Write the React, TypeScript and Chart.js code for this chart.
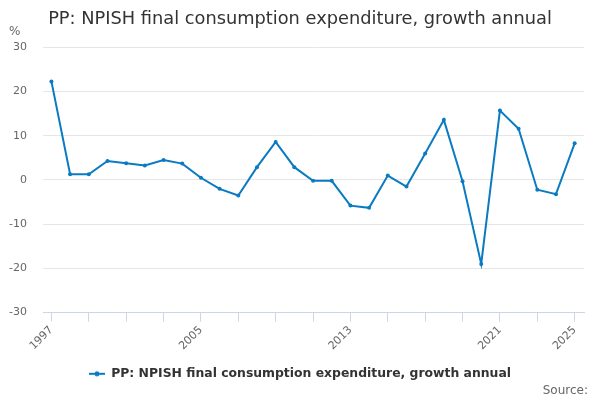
import React, { useEffect, useRef } from "react";
import { Chart, registerables } from "chart.js";

Chart.register(...registerables);

const TITLE = "PP: NPISH final consumption expenditure, growth annual";
const SERIES_NAME = "PP: NPISH final consumption expenditure, growth annual";
const years = [
  1997, 1998, 1999, 2000, 2001, 2002, 2003, 2004, 2005, 2006, 2007, 2008, 2009, 2010, 2011,
  2012, 2013, 2014, 2015, 2016, 2017, 2018, 2019, 2020, 2021, 2022, 2023, 2024, 2025,
];
const growth = [
  22.3, 1.3, 1.3, 4.3, 3.8, 3.3, 4.5, 3.7, 0.5, -2.0, -3.5, 2.9, 8.6, 2.9, -0.2,
  -0.2, -5.8, -6.3, 1.0, -1.5, 6.0, 13.6, -0.3, -19.0, 15.7, 11.6, -2.2, -3.2, 8.3,
];
const labelledYears = [1997, 2005, 2013, 2021, 2025];
const yTicks = [-30, -20, -10, 0, 10, 20, 30];
const UNIT = "%";
const SOURCE = "Source:";

const FONT = "'DejaVu Sans', sans-serif";
const LINE_COLOR = "#0a7bc2";

function legendSymbol(): HTMLCanvasElement {
  const c = document.createElement("canvas");
  c.width = 16;
  c.height = 8;
  const ctx = c.getContext("2d")!;
  ctx.strokeStyle = LINE_COLOR;
  ctx.lineWidth = 2;
  ctx.beginPath();
  ctx.moveTo(0, 4);
  ctx.lineTo(16, 4);
  ctx.stroke();
  ctx.fillStyle = LINE_COLOR;
  ctx.beginPath();
  ctx.arc(8, 4, 2.5, 0, Math.PI * 2);
  ctx.fill();
  return c;
}

const extraText = {
  id: "extraText",
  afterDraw(chart: any) {
    const ctx = chart.ctx;
    ctx.save();
    ctx.fillStyle = "#666666";
    ctx.font = `12px ${FONT}`;
    ctx.textBaseline = "middle";
    ctx.textAlign = "left";
    ctx.fillText(UNIT, 9, 32);
    ctx.textAlign = "right";
    ctx.fillText(SOURCE, 588, 391);
    ctx.restore();
  },
};

export default function App() {
  const ref = useRef<HTMLCanvasElement>(null);
  useEffect(() => {
    if (!ref.current) return;
    const tickYears = years.filter((_, i) => i % 2 === 0);
    const chart = new Chart(ref.current, {
      type: "line",
      data: {
        datasets: [
          {
            label: SERIES_NAME,
            data: years.map((y, i) => ({ x: y, y: growth[i] })),
            borderColor: LINE_COLOR,
            backgroundColor: LINE_COLOR,
            borderWidth: 2,
            pointRadius: 2,
            pointHoverRadius: 2,
            pointBackgroundColor: LINE_COLOR,
            pointBorderWidth: 0,
            tension: 0,
          },
        ],
      },
      options: {
        animation: false,
        responsive: false,
        devicePixelRatio: 1,
        layout: { padding: { left: 0, right: 0, top: 0, bottom: 10 } },
        plugins: {
          title: {
            display: true,
            text: TITLE,
            color: "#333333",
            font: { family: FONT, size: 17.8, weight: "normal" },
            padding: { top: 9, bottom: 17 },
          },
          legend: {
            position: "bottom",
            labels: {
              color: "#333333",
              font: { family: FONT, size: 12.4, weight: "bold" },
              usePointStyle: true,
              pointStyleWidth: 16,
              padding: 10,
              generateLabels: (ch: any) =>
                ch.data.datasets.map((ds: any, i: number) => ({
                  text: ds.label,
                  pointStyle: legendSymbol(),
                  fillStyle: LINE_COLOR,
                  strokeStyle: LINE_COLOR,
                  lineWidth: 0,
                  hidden: false,
                  datasetIndex: i,
                  fontColor: "#333333",
                })),
            },
          },
          tooltip: { enabled: false },
        },
        scales: {
          x: {
            type: "linear",
            min: years[0] - 0.45,
            max: years[years.length - 1] + 0.5,
            afterBuildTicks: (scale: any) => {
              scale.ticks = tickYears.map((v) => ({ value: v }));
            },
            afterFit: (scale: any) => {
              scale.height = 45;
            },
            ticks: {
              autoSkip: false,
              minRotation: 45,
              maxRotation: 45,
              color: "#666666",
              font: { family: FONT, size: 11 },
              padding: 2,
              callback: (v: any) => (labelledYears.includes(Number(v)) ? String(v) : ""),
            },
            grid: {
              drawOnChartArea: false,
              drawTicks: true,
              tickLength: 9,
              color: "#ccd6eb",
              lineWidth: 1,
            },
            border: { display: true, color: "#ccd6eb", width: 1 },
          },
          y: {
            min: -30,
            max: 30,
            afterBuildTicks: (scale: any) => {
              scale.ticks = yTicks.map((v) => ({ value: v }));
            },
            afterFit: (scale: any) => {
              scale.width = 43;
            },
            ticks: {
              color: "#666666",
              font: { family: FONT, size: 11 },
              padding: 16,
            },
            grid: {
              color: "#e6e6e6",
              lineWidth: 1,
              drawTicks: false,
            },
            border: { display: false },
          },
          yRight: {
            position: "right",
            display: true,
            min: -30,
            max: 30,
            afterFit: (scale: any) => {
              scale.width = 16;
            },
            ticks: { display: false },
            grid: { display: false, drawTicks: false },
            border: { display: false },
          },
        },
      },
      plugins: [extraText],
    });
    return () => chart.destroy();
  }, []);
  return (
    <div style={{ position: "absolute", left: 0, top: 0, width: 600, height: 400, background: "#fff" }}>
      <canvas ref={ref} width={600} height={400} style={{ width: 600, height: 400 }} />
    </div>
  );
}
